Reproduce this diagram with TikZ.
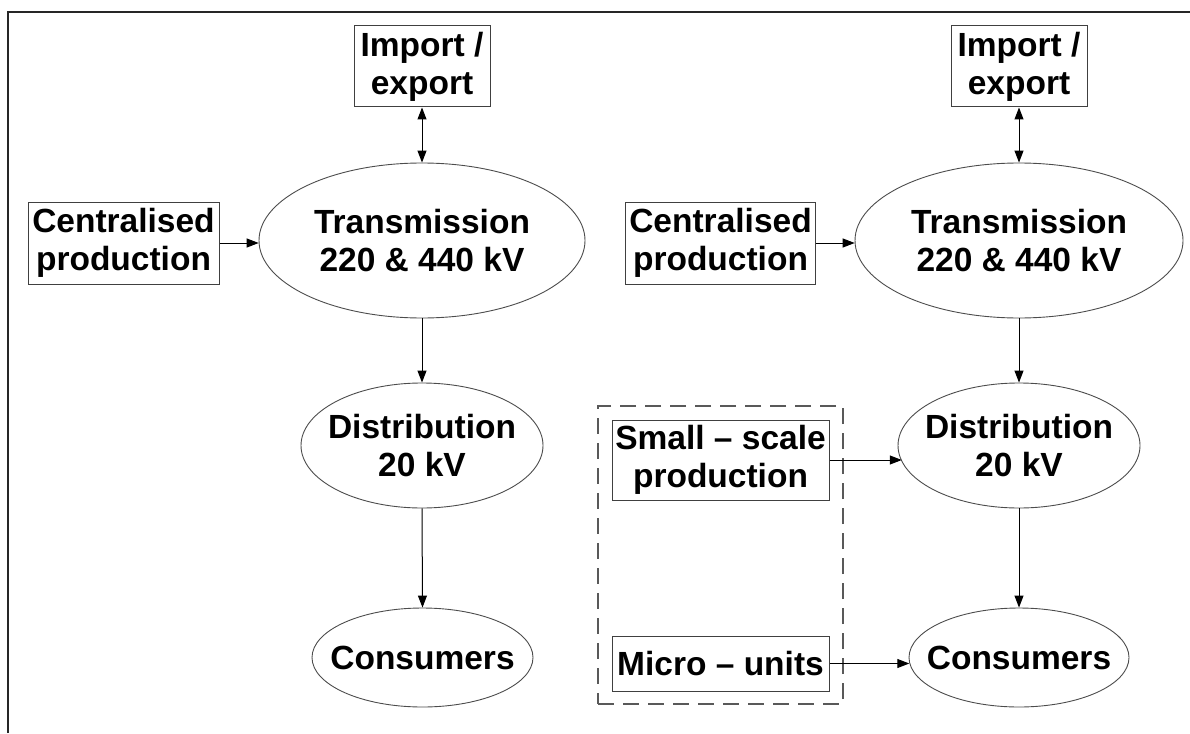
\documentclass[tikz,border=0pt]{standalone}
\usepackage{fontspec}
\setmainfont{Liberation Sans}
\usetikzlibrary{shapes.geometric,arrows.meta}
\tikzset{
  lbl/.style={font=\bfseries\fontsize{33.5}{38}\selectfont, align=center, inner sep=0pt, text=black},
  boxnode/.style={draw=black!75, line width=1pt, rectangle, inner sep=0pt},
  ellnode/.style={draw=black!70, line width=0.9pt, ellipse, inner sep=0pt},
  arr/.style={draw=black, line width=1pt, -{Triangle[length=12pt,width=9pt]}},
  darr/.style={draw=black, line width=1pt, {Triangle[length=12pt,width=9pt]}-{Triangle[length=12pt,width=9pt]}},
  grp/.style={draw=black!65, line width=1.2pt, dash pattern=on 16pt off 9pt}
}
\begin{document}
\begin{tikzpicture}[x=1pt,y=-1pt]
\useasboundingbox (0,0) rectangle (1190,733);
\draw[line width=2pt, black!85] (8,733) -- (8,12) -- (1190,12);

% ---------- left system ----------
\node[boxnode, minimum width=136pt, minimum height=81pt] (ie1) at (422,66.5) {};
\node[lbl] (ie1t) at (ie1) {Import /\\export};
\node[ellnode, minimum width=326pt, minimum height=155pt] (t1) at (422,240.5) {};
\node[lbl] (t1t) at (t1) {Transmission\\220 \& 440 kV};
\node[boxnode, minimum width=191pt, minimum height=82pt] (c1) at (123.5,243) {};
\node[lbl] (c1t) at (c1) {Centralised\\production};
\node[ellnode, minimum width=242pt, minimum height=125pt] (d1) at (422,445.5) {};
\node[lbl] (d1t) at (d1) {Distribution\\20 kV};
\node[ellnode, minimum width=221pt, minimum height=99pt] (k1) at (422.5,657.5) {};
\node[lbl] (k1t) at (k1) {Consumers};

\draw[darr] (ie1.south) -- (t1.north);
\draw[arr] (c1.east) -- (c1.east -| t1.181);
\draw[arr] (t1.south) -- (d1.north);
\draw[arr] (d1.south) -- (k1.north);

% ---------- right system ----------
\node[boxnode, minimum width=136pt, minimum height=81pt] (ie2) at (1019,66.5) {};
\node[lbl] (ie2t) at (ie2) {Import /\\export};
\node[ellnode, minimum width=328pt, minimum height=155pt] (t2) at (1019,240.5) {};
\node[lbl] (t2t) at (t2) {Transmission\\220 \& 440 kV};
\node[boxnode, minimum width=190pt, minimum height=82pt] (c2) at (720.5,243) {};
\node[lbl] (c2t) at (c2) {Centralised\\production};
\node[ellnode, minimum width=242pt, minimum height=125pt] (d2) at (1019,445.5) {};
\node[lbl] (d2t) at (d2) {Distribution\\20 kV};
\node[ellnode, minimum width=220pt, minimum height=99pt] (k2) at (1019,657.5) {};
\node[lbl] (k2t) at (k2) {Consumers};

\node[grp, rectangle, minimum width=245pt, minimum height=298pt, inner sep=0pt] (g) at (720.5,555) {};
\node[boxnode, minimum width=217pt, minimum height=80pt] (s2) at (720.5,460) {};
\node[lbl] (s2t) at (s2) {Small -- scale\\production};
\node[boxnode, minimum width=217pt, minimum height=55pt] (m2) at (720.5,663.5) {};
\node[lbl] (m2t) at (m2) {Micro -- units};

\draw[darr] (ie2.south) -- (t2.north);
\draw[arr] (c2.east) -- (c2.east -| t2.181);
\draw[arr] (t2.south) -- (d2.north);
\draw[arr] (d2.south) -- (k2.north);
\draw[arr] (s2.east) -- (s2.east -| d2.188);
\draw[arr] (m2.east) -- (m2.east -| k2.183.4);
\end{tikzpicture}
\end{document}
